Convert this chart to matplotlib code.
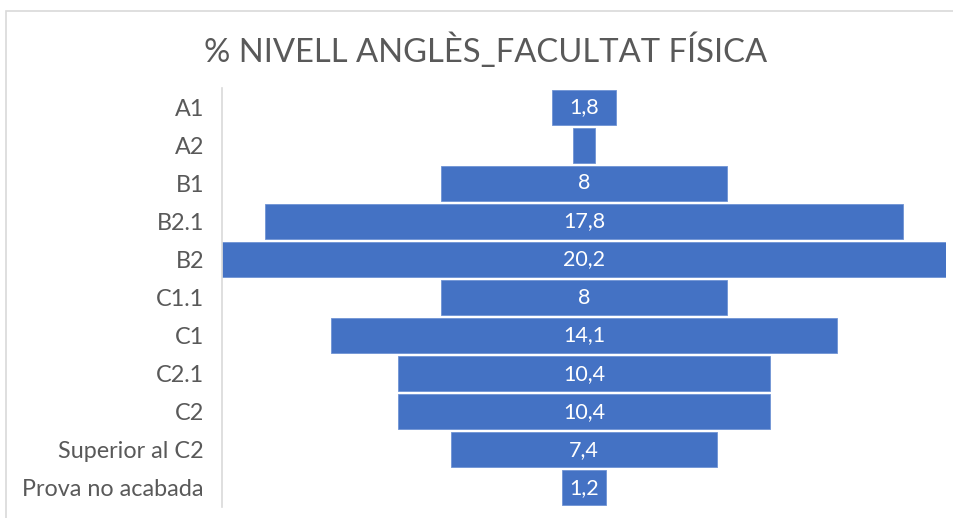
import matplotlib
matplotlib.use("Agg")
import matplotlib.pyplot as plt
from matplotlib.patches import Rectangle

categories = ["A1", "A2", "B1", "B2.1", "B2", "C1.1", "C1", "C2.1", "C2",
              "Superior al C2", "Prova no acabada"]
values = [1.8, 0.6, 8, 17.8, 20.2, 8, 14.1, 10.4, 10.4, 7.4, 1.2]
show_label = [True, False, True, True, True, True, True, True, True, True, True]
title = "% NIVELL ANGLÈS_FACULTAT FÍSICA"

FONT = "Lato"
W, H = 954, 518
fig = plt.figure(figsize=(W / 100, H / 100), dpi=100)
fig.patch.set_facecolor("white")

# chart border
fig.add_artist(Rectangle((6 / W, -0.01), 1.0, 1 - 11 / H + 0.01, transform=fig.transFigure,
                         fill=False, edgecolor="#d9d9d9", linewidth=1.2))

ax = fig.add_axes([222 / W, 1 - 507 / H, 724 / W, 419 / H])
vmax = max(values)
ypos = list(range(len(categories)))
lefts = [-v / 2 for v in values]
bars = ax.barh(ypos, values, left=lefts, height=0.92, color="#4472C4",
               edgecolor="#6f93d4", linewidth=0.6)
ax.set_xlim(-vmax / 2, vmax / 2)
ax.set_ylim(len(categories) - 0.5, -0.5)

def fmt(v):
    if float(v).is_integer():
        return str(int(v))
    return f"{v:.1f}".replace(".", ",")

for y, v, s in zip(ypos, values, show_label):
    if s:
        ax.text(0, y, fmt(v), ha="center", va="center", color="white",
                fontsize=15.5, family=FONT)

ax.set_yticks(ypos)
ax.set_yticklabels(categories, fontsize=16.8, family=FONT, color="#595959")
ax.tick_params(axis="y", length=0, pad=13)
ax.set_xticks([])
for sp in ["top", "right", "bottom"]:
    ax.spines[sp].set_visible(False)
ax.spines["left"].set_color("#d9d9d9")
ax.spines["left"].set_linewidth(1.2)

fig.text(486 / W, 1 - 50 / H, title, ha="center", va="center", fontsize=23.6,
         family=FONT, color="#595959")

fig.savefig("out.png", dpi=100)
